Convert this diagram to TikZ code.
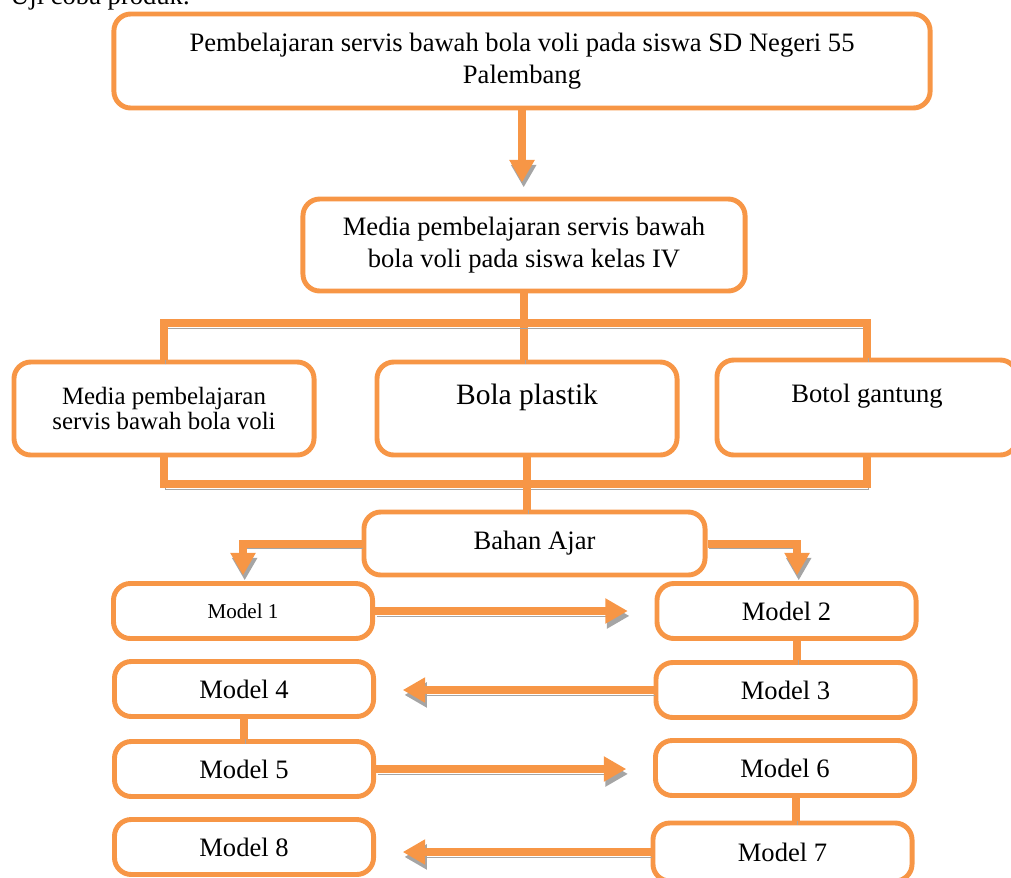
\documentclass[tikz,border=0pt]{standalone}
\usepackage{fontspec}
\setmainfont{Liberation Serif}
\usetikzlibrary{arrows.meta}
\definecolor{orng}{HTML}{F79646}
\definecolor{shade}{HTML}{A5A5A5}
\tikzset{
  box/.style={draw=orng, line width=3.5pt, rounded corners=12pt, fill=white, align=center, inner sep=2pt,
    font=\fontsize{18.9}{22.7}\selectfont},
  model/.style={box, minimum width=6.475cm, minimum height=1.375cm},
  link/.style={draw=orng, line width=5.7pt, preaction={draw=shade, transform canvas={shift={(1.2pt,-3.5pt)}}}},
  feed/.style={link, -{Triangle[length=16pt,width=17pt]}},
}
\begin{document}
\begin{tikzpicture}[x=0.025cm, y=-0.025cm]
\clip (0,0) rectangle (1011,877);
\node[anchor=base west, inner sep=0pt, font=\fontsize{18.9}{22.7}\selectfont] (uji) at (10,4) {Uji coba produk.};
% kotak
\node[box, minimum width=20.4cm, minimum height=2.35cm] (top) at (522,61)
  {Pembelajaran servis bawah bola voli pada siswa SD Negeri 55\\Palembang};
\node[box, minimum width=11.05cm, minimum height=2.3cm] (media) at (524,245)
  {Media pembelajaran servis bawah\\bola voli pada siswa kelas IV};
\node[box, minimum width=7.5cm, minimum height=2.325cm, font=\fontsize{17.7}{17.9}\selectfont] (medsrv) at (164,408.5)
  {Media pembelajaran\\servis bawah bola voli};
\node[box, minimum width=7.5cm, minimum height=2.325cm, font=\fontsize{21}{25}\selectfont, text depth=0.7cm] (bola) at (527,408.5)
  {Bola plastik};
\node[box, minimum width=7.5cm, minimum height=2.375cm, text depth=0.7cm] (botol) at (867,407.5)
  {Botol gantung};
\node[box, minimum width=8.525cm, minimum height=1.575cm] (bahan) at (534.5,543.5) {Bahan Ajar};
\node[model, font=\fontsize{15}{18}\selectfont] (m1) at (243,611) {Model 1};
\node[model] (m2) at (786.5,611) {Model 2};
\node[model] (m3) at (785.5,690) {Model 3};
\node[model] (m4) at (244,689) {Model 4};
\node[model] (m5) at (244,769) {Model 5};
\node[model] (m6) at (785,768) {Model 6};
\node[model, minimum height=1.45cm] (m7) at (782.5,852) {Model 7};
\node[model] (m8) at (244,847) {Model 8};
\coordinate (topbus) at (523,323);
\coordinate (lowbus) at (522,484);
% garis
\draw[feed, shorten >=10pt] (top.south) -- (top.south |- media.north);
\draw[link] (media.south) -- (media.south |- bola.north);
\draw[link] (medsrv.north) |- (topbus) -| (botol.north);
\draw[link] (medsrv.south) |- (lowbus) -| (botol.south);
\draw[link] (bola.south) -- (bola.south |- bahan.north);
\draw[feed, shorten >=4pt] (bahan.west) -| (m1.north);
\draw[feed, shorten >=4pt] (bahan.east) -| ([xshift=7.5pt]m2.north);
\draw[feed, shorten >=19pt] (m1.east) -- (m1.east -| m2.west);
\draw[link] ([xshift=7.5pt]m2.south) -- ([xshift=7.5pt]m2.south |- m3.north);
\draw[feed, shorten >=19pt] (m3.west) -- (m3.west -| m4.east);
\draw[link] (m4.south) -- (m4.south |- m5.north);
\draw[feed, shorten >=19pt] (m5.east) -- (m5.east -| m6.west);
\draw[link] ([xshift=7.5pt]m6.south) -- ([xshift=7.5pt]m6.south |- m7.north);
\draw[feed, shorten >=19pt] (m7.west) -- (m7.west -| m8.east);
\end{tikzpicture}
\end{document}
